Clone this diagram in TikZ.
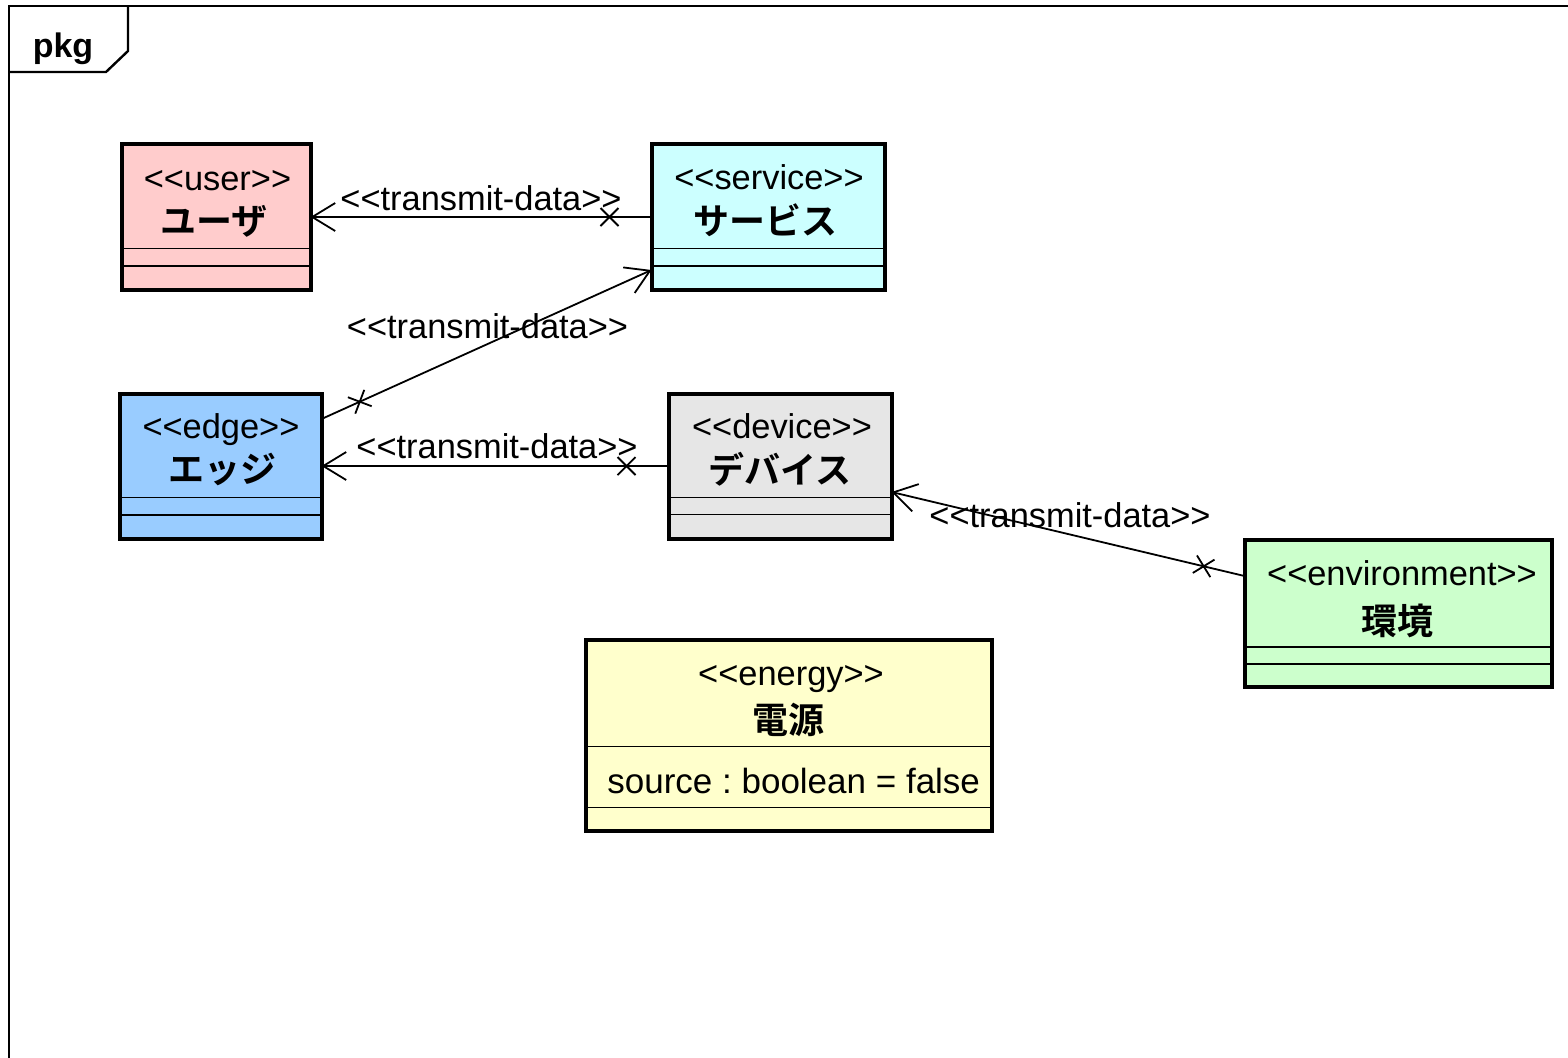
\documentclass[tikz,border=0pt]{standalone}
\usepackage{fontspec}
\setmainfont{Liberation Sans}
\newfontfamily\cjk{Noto Sans CJK JP}[BoldFont={Noto Sans CJK JP Bold}]
\usetikzlibrary{arrows.meta,calc,decorations.markings}

\definecolor{userfill}{HTML}{FFCCCC}
\definecolor{servicefill}{HTML}{CCFFFF}
\definecolor{edgefill}{HTML}{99CCFF}
\definecolor{devicefill}{HTML}{E6E6E6}
\definecolor{envfill}{HTML}{CCFFCC}
\definecolor{energyfill}{HTML}{FFFFCC}

\tikzset{
  frameline/.style={line width=1.2pt},
  cls/.style={draw, line width=2pt, inner sep=0pt, outer sep=0pt, anchor=north west},
  compline/.style={line width=0.9pt},
  stereo/.style={anchor=base, inner sep=0pt, font=\fontsize{17.2pt}{20pt}\selectfont},
  clsname/.style={anchor=base, inner sep=0pt, font=\cjk\bfseries\fontsize{18pt}{21pt}\selectfont},
  attr/.style={anchor=base west, inner sep=0pt, font=\fontsize{17.5pt}{20pt}\selectfont\frenchspacing},
  assoclabel/.style={anchor=base, inner sep=0pt, font=\fontsize{17.2pt}{20pt}\selectfont},
  assoc/.style={line width=0.9pt, -{Straight Barb[length=11.5pt,width=14pt,line width=0.9pt]},
    decoration={markings, mark=at position 21pt with {
      \draw[-, line width=0.9pt] (-4.5pt,-4.5pt) -- (4.5pt,4.5pt) (-4.5pt,4.5pt) -- (4.5pt,-4.5pt);}},
    postaction={decorate}}
}

\begin{document}
\begin{tikzpicture}[x=0.5pt, y=-0.5pt]
\useasboundingbox (0,0) rectangle (1568,1057);
\clip (0,0) rectangle (1568,1057);

% package frame and its name tab
\draw[frameline] (9,1080) -- (9,6) -- (1590,6);
\draw[frameline] (128,6) -- (128,51) -- (106,72) -- (9,72);
\node[anchor=base, inner sep=0pt, font=\bfseries\fontsize{17pt}{20pt}\selectfont] (pkg) at (63,57) {pkg};

% classes
\node[cls, fill=userfill, minimum width=94.5pt, minimum height=73pt] (user) at (121.5,144) {};
\node[cls, fill=servicefill, minimum width=116.5pt, minimum height=73pt] (service) at (651.5,144) {};
\node[cls, fill=edgefill, minimum width=101pt, minimum height=72.5pt] (edge) at (119.5,393.5) {};
\node[cls, fill=devicefill, minimum width=111.5pt, minimum height=72.5pt] (device) at (668.5,393.5) {};
\node[cls, fill=envfill, minimum width=153.5pt, minimum height=73.5pt] (env) at (1244.5,539.5) {};
\node[cls, fill=energyfill, minimum width=203pt, minimum height=95.5pt] (energy) at (585.5,639.5) {};

% compartment separators
\draw[compline] (user.west |- 0,248.5) -- (user.east |- 0,248.5)
                (user.west |- 0,266) -- (user.east |- 0,266);
\draw[compline] (service.west |- 0,248.5) -- (service.east |- 0,248.5)
                (service.west |- 0,266) -- (service.east |- 0,266);
\draw[compline] (edge.west |- 0,497.5) -- (edge.east |- 0,497.5)
                (edge.west |- 0,515) -- (edge.east |- 0,515);
\draw[compline] (device.west |- 0,497.5) -- (device.east |- 0,497.5)
                (device.west |- 0,514.5) -- (device.east |- 0,514.5);
\draw[compline] (env.west |- 0,647) -- (env.east |- 0,647)
                (env.west |- 0,664) -- (env.east |- 0,664);
\draw[compline] (energy.west |- 0,746.5) -- (energy.east |- 0,746.5)
                (energy.west |- 0,807.5) -- (energy.east |- 0,807.5);

% stereotypes and names
\node[stereo] (user-st) at (217.5,190) {<{}<user>{}>};
\node[clsname] (user-nm) at (214,234) {ユーザ};
\node[stereo] (service-st) at (769,189) {<{}<service>{}>};
\node[clsname] (service-nm) at (765.5,234) {サービス};
\node[stereo] (edge-st) at (221,438) {<{}<edge>{}>};
\node[clsname] (edge-nm) at (222,482) {エッジ};
\node[stereo] (device-st) at (782,438) {<{}<device>{}>};
\node[clsname] (device-nm) at (779.5,483) {デバイス};
\node[stereo] (env-st) at (1402,585) {<{}<environment>{}>};
\node[clsname] (env-nm) at (1397,634) {環境};
\node[stereo] (energy-st) at (791,685) {<{}<energy>{}>};
\node[clsname] (energy-nm) at (788,733) {電源};
\node[attr] (energy-attr) at (607,793) {source : boolean = false};

% associations
\coordinate (edge-out) at ($(edge.north east)+(0,25.5)$);
\coordinate (service-in) at ($(service.north west)+(0,126)$);
\coordinate (env-out) at ($(env.north west)+(0,36.5)$);
\coordinate (device-in) at ($(device.north east)+(0,98.5)$);

\draw[assoc] (service.west) -- (user.east);
\draw[assoc] (edge-out) -- (service-in);
\draw[assoc] (device.west) -- (edge.east);
\draw[assoc] (env-out) -- (device-in);

\node[assoclabel] (lab1) at (481,210) {<{}<transmit-data>{}>};
\node[assoclabel] (lab2) at (487.5,338) {<{}<transmit-data>{}>};
\node[assoclabel] (lab3) at (497,458) {<{}<transmit-data>{}>};
\node[assoclabel] (lab4) at (1070,527) {<{}<transmit-data>{}>};
\end{tikzpicture}
\end{document}
